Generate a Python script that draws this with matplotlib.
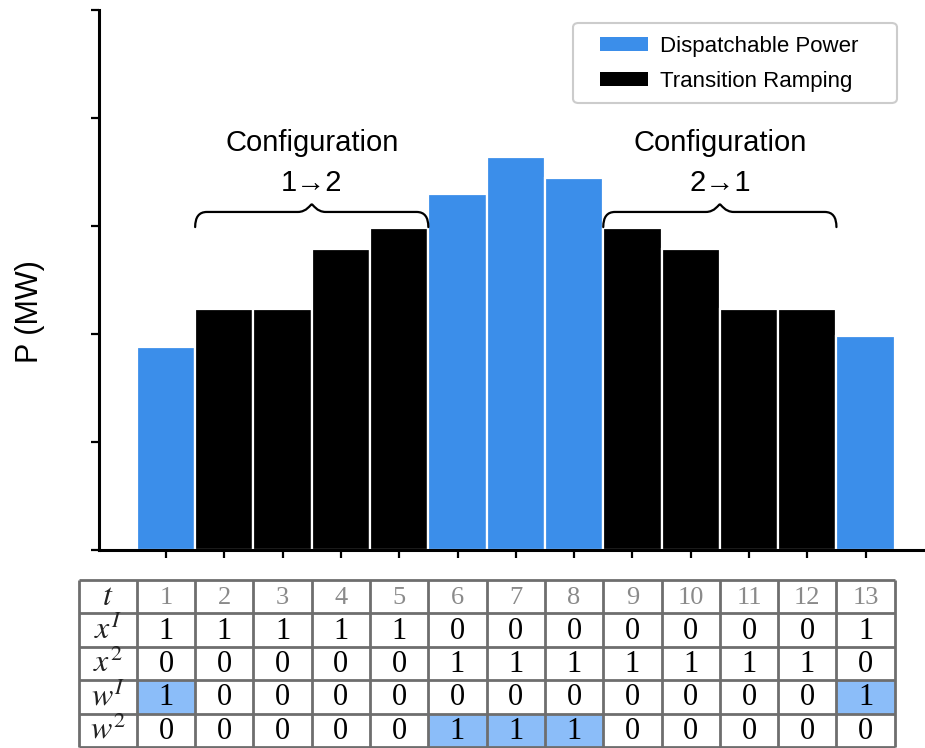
import matplotlib
matplotlib.use("Agg")
import matplotlib.pyplot as plt
from matplotlib.path import Path
from matplotlib.patches import PathPatch, Rectangle, Patch, FancyBboxPatch

plt.rcParams['font.family'] = ['Liberation Sans', 'DejaVu Sans']
plt.rcParams['mathtext.fontset'] = 'stix'

# ---------------- data ----------------
periods = list(range(1, 14))
power = [1.88, 2.23, 2.23, 2.79, 2.98, 3.30, 3.64, 3.44, 2.98, 2.79, 2.23, 2.23, 1.98]
transition = [0, 1, 1, 1, 1, 0, 0, 0, 1, 1, 1, 1, 0]
x1 = [1, 1, 1, 1, 1, 0, 0, 0, 0, 0, 0, 0, 1]
x2 = [0, 0, 0, 0, 0, 1, 1, 1, 1, 1, 1, 1, 0]
w1 = [1, 0, 0, 0, 0, 0, 0, 0, 0, 0, 0, 0, 1]
w2 = [0, 0, 0, 0, 0, 1, 1, 1, 0, 0, 0, 0, 0]
row_labels = [r'$\mathit{t}$', r'$\mathit{x}^{\mathit{I}}$', r'$\mathit{x}^{\mathit{2}}$',
              r'$\mathit{w}^{\mathit{I}}$', r'$\mathit{w}^{\mathit{2}}$']
legend_labels = ['Dispatchable Power', 'Transition Ramping']
brace_spans = [(1.5, 5.5), (8.5, 12.5)]
brace_texts = ['Configuration\n1\u21922', 'Configuration\n2\u21921']

BLUE = '#3B8EEA'
LIGHT = '#8BBDF9'
GRID = '#6e6e6e'

W, H = 925, 748
fig = plt.figure(figsize=(W / 100, H / 100), dpi=100)

def px(x):
    return 166 + (x - 1) * 58.3

# ---------------- main axes ----------------
xl = (-0.15, 14.0)
ax = fig.add_axes([px(xl[0]) / W, (H - 550) / H, (px(xl[1]) - px(xl[0])) / W, 540 / H])
ax.set_xlim(*xl)
ax.set_ylim(0, 5)
colors = ['black' if tr else BLUE for tr in transition]
ax.bar(periods, power, width=1.0, color=colors, edgecolor='white', linewidth=1.6)
for s in ['top', 'right']:
    ax.spines[s].set_visible(False)
for s in ['left', 'bottom']:
    ax.spines[s].set_linewidth(2.2)
ax.set_yticks(range(0, 6))
ax.set_yticklabels([])
ax.set_xticks(periods)
ax.set_xticklabels([])
ax.tick_params(axis='both', direction='out', length=6, width=1.6, color='black')
fig.text(30 / W, (H - 312) / H, 'P (MW)', rotation=90, fontsize=22, ha='center', va='center')

# braces
def brace(ax, x0, x1, yb, yh, yt, rx=0.2, tx=0.24):
    xm = (x0 + x1) / 2
    verts = [(x0, yb), (x0, yh), (x0 + rx, yh),
             (xm - tx, yh), (xm - tx * 0.35, yh), (xm - tx * 0.1, yt), (xm, yt),
             (xm + tx * 0.1, yt), (xm + tx * 0.35, yh), (xm + tx, yh),
             (x1 - rx, yh), (x1, yh), (x1, yb)]
    codes = [Path.MOVETO, Path.CURVE3, Path.CURVE3,
             Path.LINETO, Path.CURVE4, Path.CURVE4, Path.CURVE4,
             Path.CURVE4, Path.CURVE4, Path.CURVE4,
             Path.LINETO, Path.CURVE3, Path.CURVE3]
    ax.add_patch(PathPatch(Path(verts, codes), fill=False, lw=1.6, color='black',
                           capstyle='round', joinstyle='round'))

for (a, b), txt in zip(brace_spans, brace_texts):
    brace(ax, a, b, 2.99, 3.13, 3.20)
    ax.text((a + b) / 2, 3.58, txt, ha='center', va='center', fontsize=21,
            linespacing=1.55)

# legend (frame drawn separately to match the reference box)
fig.patches.append(FancyBboxPatch((573 / W, (H - 103) / H), 324 / W, 80 / H,
                                  boxstyle='round,pad=0,rounding_size=0.006',
                                  transform=fig.transFigure, facecolor='white',
                                  edgecolor='#cccccc', linewidth=1.5, zorder=5))
handles = [Patch(facecolor=BLUE), Patch(facecolor='black')]
leg = fig.legend(handles, legend_labels, loc='upper left',
                 bbox_to_anchor=(600 / W, (H - 36) / H), fontsize=16,
                 handlelength=2.15, handleheight=0.6, handletextpad=0.55,
                 borderpad=0, labelspacing=0.62, borderaxespad=0,
                 frameon=False)
leg.set_zorder(6)

# ---------------- table axes ----------------
tl = (-0.5, 13.5)
tax = fig.add_axes([px(tl[0]) / W, (H - 747) / H, (px(tl[1]) - px(tl[0])) / W, 167 / H])
tax.set_xlim(*tl)
tax.set_ylim(5, 0)
tax.axis('off')

rows = [periods, x1, x2, w1, w2]
for r, vals in enumerate(rows):
    tax.text(0, r + 0.5, row_labels[r], ha='center', va='center', fontsize=23,
             color='#222222')
    for c, v in enumerate(vals):
        xc = periods[c]
        if r >= 3 and v == 1:
            tax.add_patch(Rectangle((xc - 0.5, r), 1, 1, facecolor=LIGHT, edgecolor='none'))
        tax.text(xc, r + 0.53, str(v), ha='center', va='center',
                 fontsize=19 if r == 0 else 22,
                 color='#8a8a8a' if r == 0 else 'black',
                 family=['Liberation Serif', 'DejaVu Serif'])

tax.hlines(range(0, 6), tl[0], tl[1], colors=GRID, lw=2.0, clip_on=False)
tax.vlines([-0.5] + [p + 0.5 for p in [0] + periods], 0, 5, colors=GRID, lw=2.0, clip_on=False)

fig.savefig('out.png', dpi=100)
